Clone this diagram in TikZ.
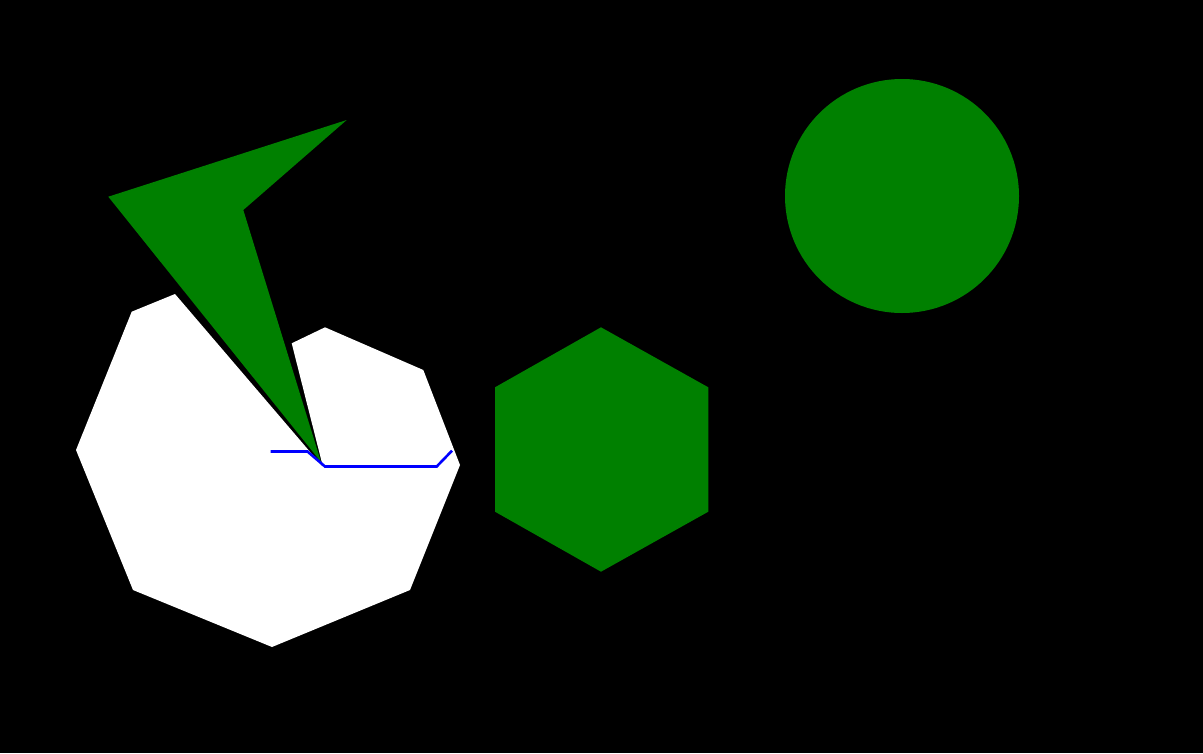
\documentclass[tikz,border=0pt]{standalone}
\definecolor{shapegreen}{RGB}{0,128,0}
\definecolor{pureblue}{RGB}{0,0,255}
\begin{document}
\begin{tikzpicture}[x=1pt,y=-1pt,
  greenfill/.style={fill=shapegreen,draw=none},
  whitefill/.style={fill=white,draw=none},
  blueline/.style={draw=pureblue,line width=2.6pt,line join=miter}]
\fill[black] (0,0) rectangle (1203,753);
\useasboundingbox (0,0) rectangle (1203,753);
% white polygon with notch
\path[whitefill] (175,294) -- (131.7,311.7) -- (76,450) -- (133,590) -- (272,647)
  -- (410,590) -- (460,465) -- (423.3,370) -- (325,327.3) -- (291.7,343.3) -- (323,467) -- cycle;
% green arrow shape
\path[greenfill] (108.3,196.7) -- (346.7,120) -- (243.3,210) -- (321,462) -- cycle;
% blue polyline
\coordinate (b1) at (270.7,451.5);
\coordinate (b2) at (307.5,451.5);
\coordinate (b3) at (325,466.5);
\coordinate (b4) at (436.7,466.5);
\coordinate (b5) at (452,450.7);
\draw[blueline] (b1) -- (b2) -- (b3) -- (b4) -- (b5);
% hexagon
\path[greenfill] (601,327.3) -- (708.3,387.3) -- (708.3,511.7) -- (601,571.7) -- (495,511.7) -- (495,387.3) -- cycle;
% circle
\path[greenfill] (902,196) circle[radius=117];
\end{tikzpicture}
\end{document}
